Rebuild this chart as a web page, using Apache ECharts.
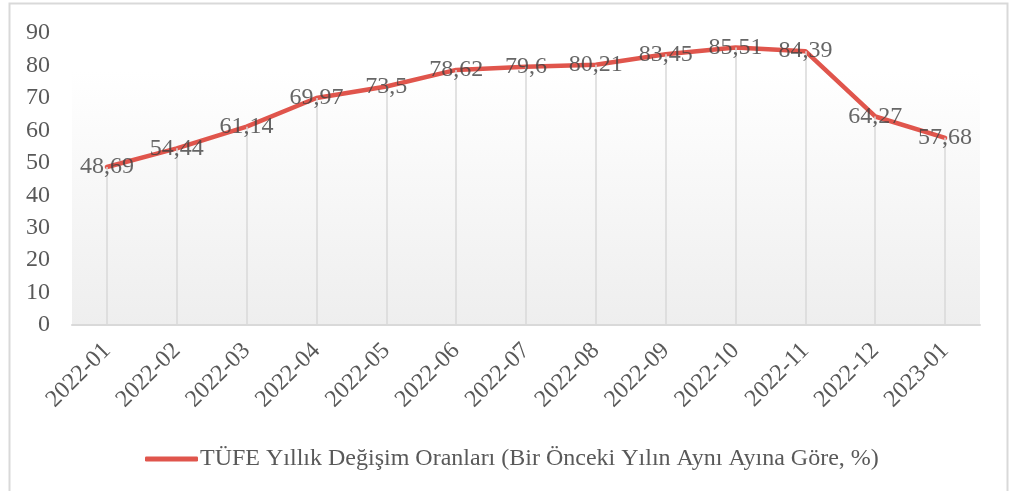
<!DOCTYPE html>
<html><head><meta charset="utf-8">
<script src="https://cdn.jsdelivr.net/npm/echarts@6/dist/echarts.min.js"></script>
<style>html,body{margin:0;padding:0;background:#fff}#c{width:1015px;height:491px}</style>
</head><body><div id="c"></div>
<script>
const categories = ['2022-01','2022-02','2022-03','2022-04','2022-05','2022-06','2022-07','2022-08','2022-09','2022-10','2022-11','2022-12','2023-01'];
const values = [48.69,54.44,61.14,69.97,73.5,78.62,79.6,80.21,83.45,85.51,84.39,64.27,57.68];
const seriesName = 'TÜFE Yıllık Değişim Oranları (Bir Önceki Yılın Aynı Ayına Göre, %)';
const yTicks = [0,10,20,30,40,50,60,70,80,90];

const font = 'Liberation Serif, Times New Roman, serif';
const red = '#e0554c';
const chart = echarts.init(document.getElementById('c'), null, {renderer:'canvas'});
chart.setOption({
  animation:false,
  backgroundColor:'#fff',
  graphic:[{type:'rect',shape:{x:9.5,y:3.5,width:998,height:500},style:{fill:'none',stroke:'#d9d9d9',lineWidth:2},z:-1,silent:true}],
  grid:{left:72,right:35,top:33,bottom:166,show:true,borderWidth:0,
    backgroundColor:new echarts.graphic.LinearGradient(0,0,0,1,[{offset:0,color:'#ffffff'},{offset:0.13,color:'#ffffff'},{offset:1,color:'#eeeeee'}])},
  legend:{left:140,top:442,itemWidth:53,itemHeight:5,itemGap:10,icon:'roundRect',
    itemStyle:{color:red,opacity:1},
    textStyle:{fontFamily:font,fontSize:24,color:'#595959',padding:[0,0,0,-3]},data:[seriesName]},
  xAxis:{type:'category',data:categories,boundaryGap:true,
    axisLine:{lineStyle:{color:'#d9d9d9',width:2}},axisTick:{show:false},
    axisLabel:{rotate:45,interval:0,margin:22,fontFamily:font,fontSize:24,color:'#595959'}},
  yAxis:{type:'value',min:yTicks[0],max:yTicks[yTicks.length-1],interval:10,
    axisLine:{show:false},axisTick:{show:false},splitLine:{show:false},
    axisLabel:{margin:22,fontFamily:font,fontSize:24,color:'#595959'}},
  series:[{
    name:seriesName,type:'line',data:values,smooth:false,symbol:'none',
    lineStyle:{color:red,width:4.5,cap:'round',join:'round'},
    itemStyle:{color:red},
    markLine:{silent:true,symbol:'none',label:{show:false},animation:false,
      lineStyle:{color:'#d9d9d9',width:1.5,type:'solid'},
      data:values.map((v,i)=>[{coord:[categories[i],0]},{coord:[categories[i],v]}])},
    z:3
  },{
    name:'labels',type:'scatter',data:values,symbolSize:2,silent:true,
    itemStyle:{color:'rgba(0,0,0,0)'},
    label:{show:true,position:'inside',fontFamily:font,fontSize:24,color:'#404040',
      formatter:p=>String(p.value).replace('.',',')},
    labelLayout:{hideOverlap:false},
    z:5
  }]
});
</script></body></html>
